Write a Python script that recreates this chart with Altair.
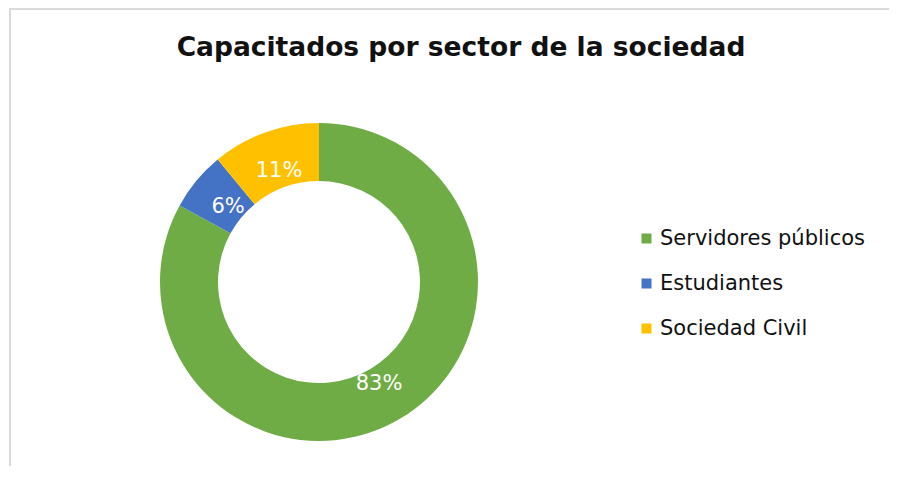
import altair as alt
import pandas as pd

categories = ["Servidores públicos", "Estudiantes", "Sociedad Civil"]
values = [83, 6, 11]
labels = ["83%", "6%", "11%"]
colors = ["#6FAC46", "#4472C4", "#FFC000"]

df = pd.DataFrame({
    "sector": categories,
    "value": values,
    "label": labels,
    "order": list(range(len(categories))),
})

FONT = "DejaVu Sans"
W, H = 622, 368
PAD_TOP, PAD_RIGHT, PAD_BOTTOM = 90, 259, 0

theta = alt.Theta("value:Q", stack=True)
color = alt.Color(
    "sector:N",
    scale=alt.Scale(domain=categories, range=colors),
    legend=alt.Legend(
        title=None,
        orient="none",
        legendX=628,
        legendY=130,
        symbolType="square",
        symbolSize=100,
        symbolStrokeWidth=0,
        labelFont=FONT,
        labelFontSize=21,
        labelColor="#111111",
        labelOffset=3,
        rowPadding=23,
        labelLimit=400,
    ),
)
order = alt.Order("order:Q")

base = alt.Chart(df)
arcs = base.mark_arc(outerRadius=159, innerRadius=101).encode(
    theta=theta, color=color, order=order
)
texts = base.mark_text(
    radius=118, font=FONT, fontSize=21, color="white"
).encode(theta=theta, text="label:N", order=order)

border_df = pd.DataFrame({"k": [0]})
left_border = alt.Chart(border_df).mark_rule(color="#d9d9d9", strokeWidth=2).encode(
    x=alt.value(2), y=alt.value(-PAD_TOP), y2=alt.value(H + PAD_BOTTOM)
)
top_border = alt.Chart(border_df).mark_rule(color="#d9d9d9", strokeWidth=2).encode(
    x=alt.value(2), x2=alt.value(W + PAD_RIGHT), y=alt.value(-PAD_TOP + 1)
)

chart = (
    alt.layer(left_border, top_border, arcs, texts)
    .properties(
        width=W,
        height=H,
        autosize=alt.AutoSizeParams(type="none"),
        padding={"left": 0, "top": PAD_TOP, "right": PAD_RIGHT, "bottom": PAD_BOTTOM},
        title=alt.TitleParams(
            "Capacitados por sector de la sociedad",
            font=FONT,
            fontSize=26.5,
            fontWeight="bold",
            color="#111111",
            anchor="middle",
            frame="group",
            offset=-54,
            dx=142,
        ),
    )
    .configure_view(stroke=None)
)

chart.save("out.html", embed_options={"renderer": "svg", "actions": False})
